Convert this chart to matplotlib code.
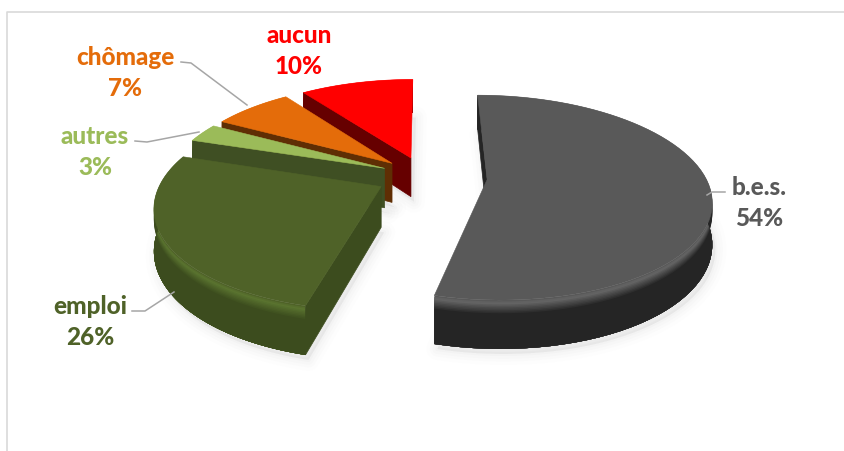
import numpy as np
import matplotlib
matplotlib.use('Agg')
import matplotlib.pyplot as plt
from matplotlib.colors import to_rgb

plt.rcParams['font.family'] = ['Lato', 'DejaVu Sans']

labels = ['b.e.s.', 'emploi', 'autres', 'chômage', 'aucun']
values = [54, 26, 3, 7, 10]
explode = [0.29, 0.22, 0.20, 0.20, 0.20]

top_colors = ['#595959', '#4f6228', '#9bbb59', '#e46c0a', '#ff0000']
side_colors = ['#252525', '#3c4c1e', '#3f4f23', '#5f2e04', '#660000']
rim_colors = ['#666666', '#5b7530', '#a8c86a', '#f07c1e', '#ff2020']
text_colors = ['#595959', '#4f6228', '#9bbb59', '#e46c0a', '#ff0000']

# label centre, in pixels
label_pos = [(759, 203), (90, 322), (95, 152), (125, 73), (299, 51)]
leaders = [
    [(707, 196), (712, 193), (725, 193)],
    [(132, 312), (145, 312), (174, 293)],
    [(135, 142), (147, 143), (199, 133)],
    [(181, 63), (191, 64), (247, 106)],
    None,
]

cx, cy = 424, 177
rx, ry = 218, 98
k = 0.175
depth = 40


def project(X, Y):
    w = 1 + k * Y
    return cx + rx * X / w, cy - ry * Y / w, depth / w


def mix(a, b, t):
    a, b = np.array(to_rgb(a)), np.array(to_rgb(b))
    return tuple(a + (b - a) * min(t, 1))


def rim_shade(top, rim, side, t):
    if t < 0.05:
        return mix(top, rim, t / 0.05)
    return mix(rim, side, (t - 0.05) / 0.22)


fig = plt.figure(figsize=(8.44, 4.52), dpi=100)
ax = fig.add_axes([0, 0, 1, 1])
ax.set_xlim(0, 844)
ax.set_ylim(452, 0)
ax.axis('off')

ax.plot([7, 7, 844], [452, 13, 13], color='#d9d9d9', lw=1.2, zorder=1)

# slice angles, clockwise from the top
total = sum(values)
edges = np.cumsum([0] + values) / total * 360
slices = []
for i in range(len(values)):
    a0, a1 = edges[i], edges[i + 1]
    mid = np.radians((a0 + a1) / 2)
    ox, oy = explode[i] * np.sin(mid), explode[i] * np.cos(mid)
    th = np.radians(np.linspace(a0, a1, max(int(a1 - a0), 8)))
    slices.append((i, ox, oy, th))

# soft shadow under everything
for ind, ox, oy, th in slices:
    X = np.r_[ox, ox + np.sin(th)]
    Y = np.r_[oy, oy + np.cos(th)]
    px, py, d = project(X, Y)
    for lw, a in [(16, 0.012), (11, 0.018), (7, 0.025), (3, 0.03)]:
        ax.fill(px + 3, py + d + 5, facecolor='#808080', edgecolor='#808080',
                lw=lw, alpha=a, joinstyle='round', zorder=2)

# back slices first, the big one does not touch the others
z = 3
for ind in [4, 3, 2, 1, 0]:
    i, ox, oy, th = slices[ind]
    side = side_colors[i]
    top = top_colors[i]
    rim = rim_colors[i]

    # outer wall, each band reaches the bottom and the next one paints over it
    fine = np.radians(np.linspace(np.degrees(th[0]), np.degrees(th[-1]), 70))
    px, py, d = project(ox + np.sin(fine), oy + np.cos(fine))
    bands = np.linspace(0, 0.27, 10)
    for b0 in bands:
        c = rim_shade(top, rim, side, b0)
        ax.fill(np.r_[px, px[::-1]], np.r_[py + b0 * d, (py + d)[::-1]],
                facecolor=c, edgecolor='none', zorder=z)
    z += 1

    # cut faces, only the ones turned towards the viewer
    ax0, ay0, d0 = project(ox, oy)
    for t, seen in [(th[0], np.sin(th[0]) < 0.01), (th[-1], np.sin(th[-1]) > 0.01)]:
        if seen:
            ex, ey, de = project(ox + np.sin(t), oy + np.cos(t))
            ax.fill([ax0, ex, ex, ax0], [ay0, ey, ey + de, ay0 + d0],
                    facecolor=side, edgecolor=side, lw=0.5, zorder=z)
    z += 1

    # top face
    ax.fill(np.r_[ax0, px], np.r_[ay0, py], facecolor=top, edgecolor=top,
            lw=0.4, zorder=z)
    z += 1

for i in range(len(labels)):
    if leaders[i] is not None:
        xs, ys = zip(*leaders[i])
        ax.plot(xs, ys, color='#a6a6a6', lw=1.1, zorder=z)
    lx, ly = label_pos[i]
    ax.text(lx, ly, f'{labels[i]}\n{values[i]}%', color=text_colors[i],
            fontsize=17.5, fontweight=900, ha='center', va='center',
            linespacing=1.45, zorder=z + 1)

fig.savefig('out.png', dpi=100, facecolor='white')
